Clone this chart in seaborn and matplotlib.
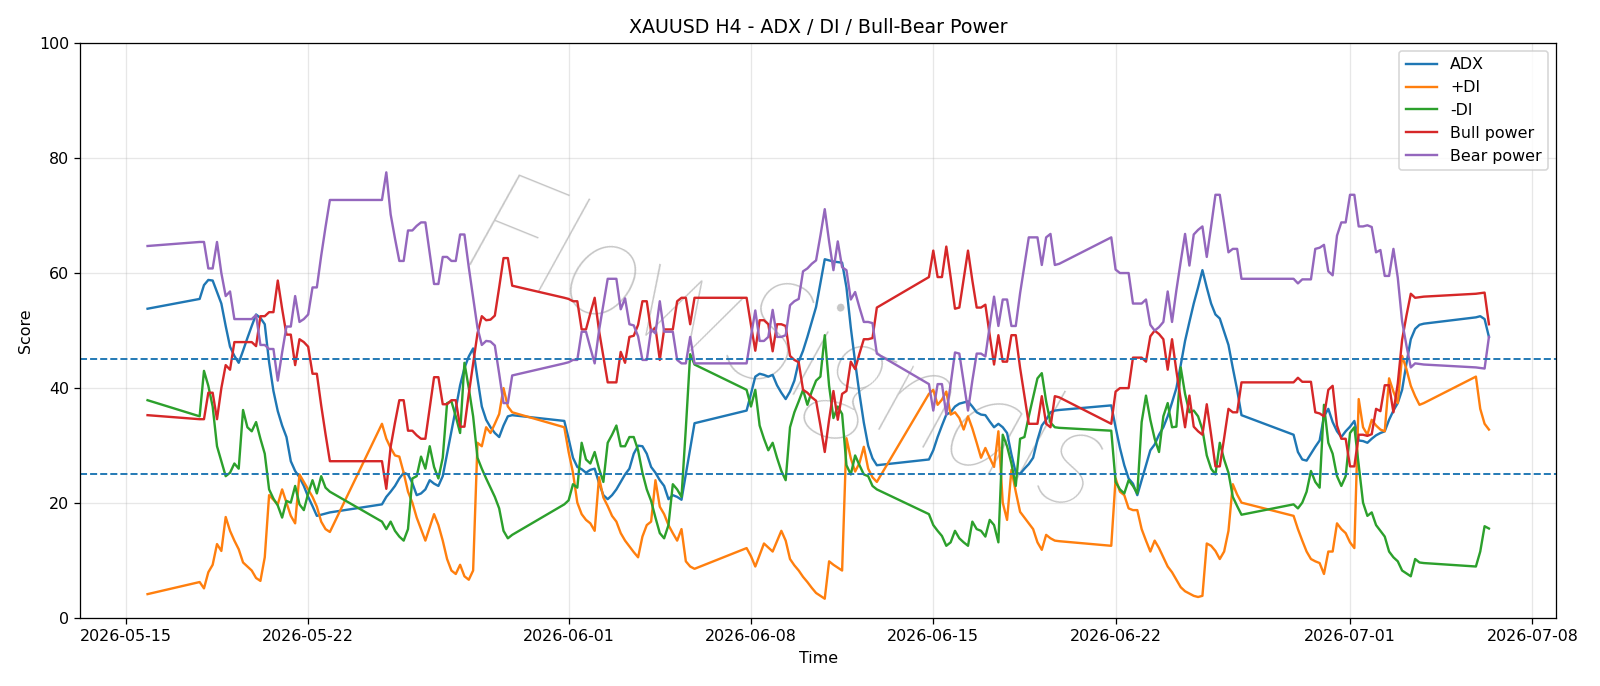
import matplotlib
matplotlib.use("Agg")
import matplotlib.pyplot as plt
import pandas as pd
import seaborn as sns

# H4 bar timestamps (year 2026), "MM-DD HH"
TIMES = [
    "05-15 20", "05-17 20",
    "05-18 00", "05-18 04", "05-18 08", "05-18 12", "05-18 16", "05-18 20",
    "05-19 00", "05-19 04", "05-19 08", "05-19 12", "05-19 16", "05-19 20",
    "05-20 00", "05-20 04", "05-20 08", "05-20 12", "05-20 16", "05-20 20",
    "05-21 00", "05-21 04", "05-21 08", "05-21 12", "05-21 16", "05-21 20",
    "05-22 00", "05-22 04", "05-22 08", "05-22 12", "05-22 16", "05-22 20",
    "05-24 20",
    "05-25 00", "05-25 04", "05-25 08", "05-25 12", "05-25 16", "05-25 20",
    "05-26 00", "05-26 04", "05-26 08", "05-26 12", "05-26 16", "05-26 20",
    "05-27 00", "05-27 04", "05-27 08", "05-27 12", "05-27 16", "05-27 20",
    "05-28 00", "05-28 04", "05-28 08", "05-28 12", "05-28 16", "05-28 20",
    "05-29 00", "05-29 04", "05-29 08", "05-29 12", "05-29 16", "05-29 20",
    "05-31 20",
    "06-01 00", "06-01 04", "06-01 08", "06-01 12", "06-01 16", "06-01 20",
    "06-02 00", "06-02 04", "06-02 08", "06-02 12", "06-02 16", "06-02 20",
    "06-03 00", "06-03 04", "06-03 08", "06-03 12", "06-03 16", "06-03 20",
    "06-04 00", "06-04 04", "06-04 08", "06-04 12", "06-04 16", "06-04 20",
    "06-05 00", "06-05 04", "06-05 08", "06-05 12", "06-05 16", "06-05 20",
    "06-07 20",
    "06-08 00", "06-08 04", "06-08 08", "06-08 12", "06-08 16", "06-08 20",
    "06-09 00", "06-09 04", "06-09 08", "06-09 12", "06-09 16", "06-09 20",
    "06-10 00", "06-10 04", "06-10 08", "06-10 12", "06-10 16", "06-10 20",
    "06-11 00", "06-11 04", "06-11 08", "06-11 12", "06-11 16", "06-11 20",
    "06-12 00", "06-12 04", "06-12 08", "06-12 12", "06-12 16", "06-12 20",
    "06-14 20",
    "06-15 00", "06-15 04", "06-15 08", "06-15 12", "06-15 16", "06-15 20",
    "06-16 00", "06-16 04", "06-16 08", "06-16 12", "06-16 16", "06-16 20",
    "06-17 00", "06-17 04", "06-17 08", "06-17 12", "06-17 16", "06-17 20",
    "06-18 00", "06-18 04", "06-18 08", "06-18 12", "06-18 16", "06-18 20",
    "06-19 00", "06-19 04", "06-19 08", "06-19 12", "06-19 16", "06-19 20",
    "06-21 20",
    "06-22 00", "06-22 04", "06-22 08", "06-22 12", "06-22 16", "06-22 20",
    "06-23 00", "06-23 04", "06-23 08", "06-23 12", "06-23 16", "06-23 20",
    "06-24 00", "06-24 04", "06-24 08", "06-24 12", "06-24 16", "06-24 20",
    "06-25 00", "06-25 04", "06-25 08", "06-25 12", "06-25 16", "06-25 20",
    "06-26 00", "06-26 04", "06-26 08", "06-26 12", "06-26 16", "06-26 20",
    "06-28 20",
    "06-29 00", "06-29 04", "06-29 08", "06-29 12", "06-29 16", "06-29 20",
    "06-30 00", "06-30 04", "06-30 08", "06-30 12", "06-30 16", "06-30 20",
    "07-01 00", "07-01 04", "07-01 08", "07-01 12", "07-01 16", "07-01 20",
    "07-02 00", "07-02 04", "07-02 08", "07-02 12", "07-02 16", "07-02 20",
    "07-03 00", "07-03 04", "07-03 08", "07-03 12", "07-03 16", "07-03 20",
    "07-05 20", "07-06 00", "07-06 04", "07-06 08",
]

ADX = [
    53.8, 55.5,
    57.9, 58.8, 58.7, 56.7, 54.7, 50.8,
    47.2, 45.6, 44.4, 46.5, 48.7, 50.8,
    52.8, 52.2, 51.1, 44.5, 39.5, 36.0,
    33.5, 31.5, 27.3, 25.6, 24.5, 23.0,
    21.1, 19.5, 17.8, 18.0, 18.2, 18.4,
    19.8,
    21.1, 22.0, 23.0, 24.3, 25.3, 25.0,
    23.5, 21.4, 21.7, 22.4, 24.0, 23.4,
    23.0, 24.7, 28.6, 32.5, 36.4, 40.5,
    43.5, 45.5, 46.9, 41.7, 36.8, 34.5,
    33.2, 32.2, 31.5, 33.5, 35.1, 35.3,
    34.3,
    31.2, 27.9, 26.3, 25.9, 25.3, 25.8,
    26.0, 23.5, 21.4, 20.7, 21.4, 22.4,
    23.7, 25.0, 26.0, 28.6, 30.0, 29.9,
    28.6, 26.3, 25.3, 24.0, 23.0, 20.7,
    21.4, 21.1, 20.6, 25.0, 29.5, 33.9,
    36.1,
    39.0, 42.0, 42.5, 42.3, 42.0, 42.3,
    40.5, 39.2, 38.1, 39.4, 41.3, 44.6,
    46.5, 48.9, 51.5, 54.1, 58.2, 62.4,
    62.2, 62.0, 61.9, 61.8, 57.5, 50.5,
    44.5, 39.0, 34.0, 30.0, 27.8, 26.6,
    27.6,
    29.2, 31.5, 33.5, 35.4, 35.8, 36.8,
    37.3, 37.5, 37.7, 36.8, 35.8, 35.4,
    35.3, 34.2, 33.2, 33.8, 33.2, 32.2,
    28.5, 25.3, 25.1, 26.0, 26.8, 27.9,
    31.0, 33.5, 34.5, 35.8, 36.1, 36.2,
    37.0,
    33.2, 29.6, 26.6, 24.3, 23.4, 21.4,
    24.0, 26.6, 29.2, 30.2, 31.9, 33.2,
    35.1, 37.5, 40.0, 44.0, 48.2, 51.5,
    54.7, 57.5, 60.5, 57.5, 54.7, 52.8,
    52.1, 49.8, 47.5, 43.5, 39.7, 35.3,
    31.9,
    28.9, 27.6, 27.4, 28.6, 29.8, 30.9,
    35.1, 36.4, 34.1, 32.5, 31.5, 32.5,
    33.3, 34.3, 30.9, 30.8, 30.5, 31.2,
    31.8, 32.2, 32.5, 34.5, 36.1, 37.4,
    39.7, 44.3, 48.5, 50.3, 51.0, 51.2,
    52.3, 52.5, 52.0, 48.9,
]

PLUS_DI = [
    4.2, 6.3,
    5.2, 8.0, 9.3, 12.9, 11.7, 17.6,
    15.2, 13.5, 12.0, 9.7, 9.0, 8.3,
    7.0, 6.5, 10.6, 21.4, 20.6, 19.8,
    22.4, 20.1, 17.8, 16.5, 25.0, 23.7,
    22.4, 21.1, 19.4, 16.8, 15.5, 15.0,
    33.8,
    31.2, 29.6, 28.3, 28.1, 25.3, 22.0,
    20.1, 17.5, 15.5, 13.5, 15.8, 18.1,
    16.2, 13.5, 10.3, 8.3, 7.7, 9.3,
    7.3, 6.7, 8.3, 30.5, 29.9, 33.2,
    32.2, 33.8, 35.5, 40.0, 36.8, 35.8,
    33.2,
    28.9, 25.3, 20.1, 18.1, 17.1, 16.5,
    15.2, 24.5, 21.0, 19.5, 17.8, 16.8,
    14.8, 13.5, 12.5, 11.5, 10.6, 14.2,
    16.2, 16.8, 24.0, 19.4, 18.1, 16.2,
    14.8, 13.5, 15.5, 9.9, 9.0, 8.6,
    12.2,
    10.8, 9.0, 11.0, 13.0, 12.3, 11.6,
    13.4, 15.2, 13.5, 10.3, 9.2, 8.3,
    7.2, 6.3, 5.3, 4.4, 3.9, 3.4,
    9.9, 9.3, 8.8, 8.3, 31.3, 27.8,
    25.5, 27.0, 29.8, 26.0, 24.5, 23.7,
    39.0,
    39.7, 37.1, 38.0, 39.4, 35.4, 35.8,
    34.8, 32.8, 35.1, 33.0, 30.5, 27.9,
    29.6, 27.9, 26.3, 32.5, 20.1, 17.1,
    25.8, 22.0, 18.5, 17.5, 16.5, 15.5,
    13.2, 11.9, 14.5, 13.9, 13.5, 13.4,
    12.6,
    24.3, 22.0, 21.4, 19.1, 18.8, 18.8,
    15.5, 13.5, 11.6, 13.5, 12.2, 10.6,
    9.0, 8.0, 6.7, 5.4, 4.7, 4.3,
    3.9, 3.7, 3.9, 13.0, 12.6, 11.7,
    10.3, 11.6, 15.2, 23.3, 21.5, 20.1,
    17.8,
    15.5, 13.5, 11.6, 10.3, 9.9, 9.6,
    7.7, 11.6, 11.6, 16.5, 15.5, 14.8,
    13.2, 12.2, 38.1, 33.2, 31.9, 34.5,
    33.5, 32.8, 32.5, 41.7, 39.4, 37.4,
    45.6, 43.3, 40.4, 38.6, 37.1, 37.4,
    42.0, 36.4, 33.8, 32.8,
]

MINUS_DI = [
    37.9, 35.1,
    43.0, 40.4, 36.8, 29.9, 27.3, 24.7,
    25.3, 26.9, 26.0, 36.2, 33.2, 32.5,
    34.1, 31.2, 28.6, 22.4, 20.8, 19.6,
    17.5, 20.4, 20.1, 23.0, 19.8, 18.8,
    21.7, 24.0, 21.7, 24.7, 22.7, 22.0,
    16.8,
    15.5, 16.8, 15.2, 14.2, 13.5, 15.5,
    24.3, 24.7, 28.1, 26.0, 29.9, 26.3,
    24.3, 27.9, 37.4, 37.7, 35.1, 32.2,
    44.4, 40.0, 35.1, 27.9, 26.0, 24.3,
    22.7, 21.1, 19.1, 15.2, 13.9, 14.5,
    19.8,
    20.5, 23.3, 22.7, 30.5, 27.6, 26.9,
    28.9, 26.0, 23.7, 30.5, 31.9, 33.5,
    29.9, 29.9, 31.5, 31.5, 29.2, 25.3,
    22.4, 20.4, 17.5, 14.8, 13.9, 16.2,
    23.3, 22.4, 21.1, 33.0, 45.9, 44.1,
    39.7,
    36.8, 39.7, 33.5, 31.2, 29.2, 30.5,
    27.9, 25.6, 24.0, 33.2, 35.8, 37.7,
    39.7, 37.1, 39.4, 41.3, 42.0, 49.2,
    40.4, 34.8, 36.8, 35.5, 26.6, 25.0,
    28.3, 26.6, 25.0, 24.7, 23.0, 22.4,
    18.1,
    16.2, 15.2, 14.3, 12.6, 13.2, 15.2,
    13.9, 13.2, 12.6, 16.8, 15.5, 15.2,
    14.2, 17.1, 16.2, 13.2, 31.9, 29.9,
    26.9, 23.0, 31.2, 31.5, 35.1, 38.4,
    41.7, 42.6, 37.7, 34.0, 33.2, 33.1,
    32.6,
    23.7, 22.4, 21.7, 24.0, 23.0, 21.7,
    34.1, 38.7, 34.5, 31.2, 28.9, 35.1,
    37.4, 33.2, 33.3, 43.6, 39.0, 35.8,
    36.1, 35.1, 32.8, 28.3, 26.0, 25.0,
    30.5, 27.6, 25.3, 21.1, 19.5, 18.0,
    19.8,
    19.1, 20.1, 22.0, 25.6, 23.7, 22.7,
    37.1, 30.5, 28.6, 24.7, 23.0, 24.7,
    32.2, 33.2, 26.6, 20.1, 17.8, 18.4,
    16.2, 15.2, 14.2, 11.6, 10.6, 9.9,
    8.3, 7.8, 7.3, 10.3, 9.7, 9.6,
    9.0, 11.6, 16.0, 15.6,
]

BULL = [
    35.3, 34.6,
    34.6, 39.2, 39.2, 34.6, 40.0, 44.0,
    43.2, 48.0, 48.0, 48.0, 48.0, 48.0,
    47.3, 52.5, 52.5, 53.2, 53.2, 58.7,
    53.8, 49.3, 49.3, 44.0, 48.5, 48.0,
    47.2, 42.5, 42.5, 37.0, 32.0, 27.3,
    27.3,
    22.5, 29.8, 34.0, 37.9, 37.9, 32.6,
    32.6, 31.8, 31.2, 31.2, 36.5, 41.9,
    41.9, 37.2, 37.2, 37.9, 37.9, 33.3,
    33.3, 39.0, 44.2, 49.5, 52.5, 51.8,
    51.9, 52.6, 57.5, 62.6, 62.6, 57.8,
    55.7,
    55.5, 55.1, 55.1, 50.2, 50.2, 53.0,
    55.7, 50.0, 45.5, 41.0, 41.0, 41.0,
    46.3, 44.4, 48.9, 49.1, 51.0, 55.1,
    55.1, 49.8, 50.5, 44.9, 50.2, 50.2,
    50.2, 55.1, 55.7, 55.7, 51.1, 55.7,
    55.7,
    51.0, 46.5, 51.8, 51.8, 51.1, 46.4,
    51.1, 51.1, 50.8, 45.6, 44.9, 44.5,
    39.7, 39.2, 38.4, 37.8, 33.5, 28.9,
    34.5, 39.5, 34.5, 39.0, 39.5, 44.6,
    43.3, 46.0, 48.5, 48.5, 48.7, 54.0,
    59.3,
    63.9, 59.3, 59.3, 64.6, 59.3, 53.8,
    54.0, 59.0, 63.9, 58.7, 54.0, 54.0,
    54.5, 49.2, 44.1, 49.2, 44.6, 44.6,
    49.2, 49.2, 43.5, 38.7, 33.8, 33.8,
    33.8, 38.6, 33.8, 33.2, 38.6, 38.4,
    33.8,
    39.4, 40.0, 40.0, 40.0, 45.3, 45.3,
    45.3, 44.6, 49.0, 50.0, 49.4, 48.5,
    43.2, 48.5, 43.0, 38.0, 33.2, 38.7,
    33.3, 32.5, 31.9, 37.2, 31.9, 26.4,
    26.4, 31.3, 36.4, 35.8, 35.8, 41.0,
    41.0,
    41.8, 41.1, 41.1, 41.1, 35.8, 35.6,
    35.1, 39.7, 40.4, 33.5, 31.2, 31.2,
    26.4, 26.4, 31.9, 31.9, 31.7, 32.0,
    36.4, 36.0, 40.5, 40.5, 35.8, 40.8,
    48.4, 52.6, 56.4, 55.7, 55.8, 55.9,
    56.4, 56.5, 56.6, 51.1,
]

BEAR = [
    64.7, 65.4,
    65.4, 60.8, 60.8, 65.4, 60.0, 56.0,
    56.8, 52.0, 52.0, 52.0, 52.0, 52.0,
    52.7, 47.5, 47.5, 46.8, 46.8, 41.3,
    46.2, 50.7, 50.7, 56.0, 51.5, 52.0,
    52.8, 57.5, 57.5, 63.0, 68.0, 72.7,
    72.7,
    77.5, 70.2, 66.0, 62.1, 62.1, 67.4,
    67.4, 68.2, 68.8, 68.8, 63.5, 58.1,
    58.1, 62.8, 62.8, 62.1, 62.1, 66.7,
    66.7, 61.0, 55.8, 50.5, 47.5, 48.2,
    48.1, 47.4, 42.5, 37.4, 37.4, 42.2,
    44.3,
    44.5, 44.9, 44.9, 49.8, 49.8, 47.0,
    44.3, 50.0, 54.5, 59.0, 59.0, 59.0,
    53.7, 55.6, 51.1, 50.9, 49.0, 44.9,
    44.9, 50.2, 49.5, 55.1, 49.8, 49.8,
    49.8, 44.9, 44.3, 44.3, 48.9, 44.3,
    44.3,
    49.0, 53.5, 48.2, 48.2, 48.9, 53.6,
    48.9, 48.9, 49.2, 54.4, 55.1, 55.5,
    60.3, 60.8, 61.6, 62.2, 66.5, 71.1,
    65.5, 60.5, 65.5, 61.0, 60.5, 55.4,
    56.7, 54.0, 51.5, 51.5, 51.3, 46.0,
    40.7,
    36.1, 40.7, 40.7, 35.4, 40.7, 46.2,
    46.0, 41.0, 36.1, 41.3, 46.0, 46.0,
    45.5, 50.8, 55.9, 50.8, 55.4, 55.4,
    50.8, 50.8, 56.5, 61.3, 66.2, 66.2,
    66.2, 61.4, 66.2, 66.8, 61.4, 61.6,
    66.2,
    60.6, 60.0, 60.0, 60.0, 54.7, 54.7,
    54.7, 55.4, 51.0, 50.0, 50.6, 51.5,
    56.8, 51.5, 57.0, 62.0, 66.8, 61.3,
    66.7, 67.5, 68.1, 62.8, 68.1, 73.6,
    73.6, 68.7, 63.6, 64.2, 64.2, 59.0,
    59.0,
    58.2, 58.9, 58.9, 58.9, 64.2, 64.4,
    64.9, 60.3, 59.6, 66.5, 68.8, 68.8,
    73.6, 73.6, 68.1, 68.1, 68.3, 68.0,
    63.6, 64.0, 59.5, 59.5, 64.2, 59.2,
    51.6, 47.4, 43.6, 44.3, 44.2, 44.1,
    43.6, 43.5, 43.4, 48.9,
]

SERIES = ["ADX", "+DI", "-DI", "Bull power", "Bear power"]
COLORS = ["#1f77b4", "#ff7f0e", "#2ca02c", "#d62728", "#9467bd"]
LEVELS = [25, 45]

time = pd.to_datetime(["2026-" + s for s in TIMES], format="%Y-%m-%d %H")
df = pd.DataFrame({"Time": time, "ADX": ADX, "+DI": PLUS_DI, "-DI": MINUS_DI,
                   "Bull power": BULL, "Bear power": BEAR})

DPI = 1600 / 14.0
fig = plt.figure(figsize=(14, 686 / DPI), dpi=DPI)
ax = fig.add_axes([0.0503, 0.0987, 0.9222, 0.8388])

for name, col in zip(SERIES, COLORS):
    sns.lineplot(data=df, x="Time", y=name, color=col, label=name, linewidth=1.5, ax=ax)

for lv in LEVELS:
    ax.axhline(lv, color="#1f77b4", linestyle="--", linewidth=1.2)

ax.set_ylim(0, 100)
ax.set_xlabel("Time")
ax.set_ylabel("Score")
ax.set_title("XAUUSD H4 - ADX / DI / Bull-Bear Power")
ax.grid(True, alpha=0.3)
ax.legend(loc="upper right")

ax.text(0.478, 0.46, "FlowSignals", transform=ax.transAxes, rotation=-22,
        fontsize=92, color="gray", alpha=0.45, ha="center", va="center",
        family=["Lato", "DejaVu Sans"], style="italic", fontweight="light", zorder=0)

fig.savefig("out.png", dpi=DPI)
